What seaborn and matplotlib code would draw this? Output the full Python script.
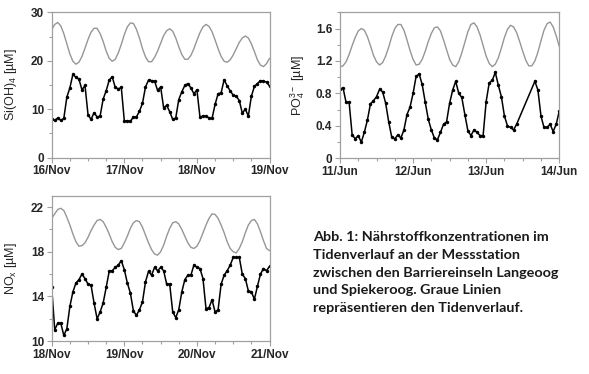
import numpy as np
import matplotlib
matplotlib.use('Agg')
import matplotlib.pyplot as plt
import seaborn as sns
from matplotlib.ticker import MultipleLocator

# Stunden seit Beginn der Messreihe (stündliche Proben)
hours = list(range(73))
po4_hours = list(range(59)) + list(range(64, 73))  # Lücke in den Daten

# Si(OH)4 [µM], 16/Nov - 19/Nov
si_tide = [26.4, 27.5, 27.9, 27.2, 25.6, 23.5, 21.4, 19.9, 19.3, 19.7, 20.9, 22.6, 24.4, 25.9, 26.7,
           26.7, 25.6, 24.0, 22.0, 20.5, 19.9, 20.3, 21.6, 23.4, 25.4, 27.0, 27.8, 27.7, 26.5, 24.7,
           22.5, 20.8, 19.8, 19.8, 20.7, 22.0, 23.6, 25.2, 26.2, 26.6, 26.1, 24.7, 22.9, 21.3, 20.3,
           20.3, 21.1, 22.5, 24.2, 25.8, 27.0, 27.5, 27.1, 26.0, 24.3, 22.5, 20.9, 19.9, 19.7, 20.2,
           21.2, 22.5, 23.8, 24.7, 25.1, 24.7, 23.5, 21.9, 20.2, 19.1, 18.8, 19.4, 20.5]
si_conc = [7.9, 7.7, 8.2, 7.7, 8.1, 12.5, 14.4, 17.2, 16.6, 16.2, 14.0, 14.9, 8.9, 7.9, 9.3,
           8.4, 8.6, 12.1, 13.8, 16.0, 16.7, 14.5, 14.2, 14.5, 7.6, 7.6, 7.5, 8.4, 8.4, 9.6,
           11.2, 14.6, 16.0, 15.9, 15.8, 13.9, 14.6, 10.3, 10.8, 9.5, 7.9, 8.2, 12.0, 13.6, 14.9,
           15.3, 14.4, 13.2, 14.0, 8.4, 8.6, 8.6, 8.2, 8.1, 11.0, 13.2, 13.4, 16.1, 14.8, 13.8,
           12.9, 12.7, 11.8, 9.2, 10.0, 8.6, 12.7, 14.7, 15.3, 15.9, 15.8, 15.6, 14.8]

# PO4 [µM], 11/Jun - 14/Jun
po4_tide = [1.13, 1.14, 1.19, 1.28, 1.39, 1.49, 1.57, 1.60, 1.58, 1.50, 1.39, 1.27, 1.19, 1.15, 1.18,
            1.26, 1.37, 1.50, 1.60, 1.65, 1.65, 1.58, 1.46, 1.33, 1.22, 1.15, 1.16, 1.22, 1.32, 1.44,
            1.54, 1.61, 1.62, 1.57, 1.46, 1.34, 1.22, 1.15, 1.13, 1.19, 1.30, 1.43, 1.56, 1.65, 1.67,
            1.62, 1.52, 1.39, 1.26, 1.17, 1.13, 1.16, 1.24, 1.36, 1.49, 1.59, 1.64, 1.62, 1.55, 1.44,
            1.32, 1.21, 1.14, 1.14, 1.20, 1.31, 1.45, 1.58, 1.66, 1.68, 1.62, 1.51, 1.38]
po4_conc = [0.85, 0.87, 0.69, 0.69, 0.29, 0.24, 0.28, 0.20, 0.32, 0.47, 0.67, 0.71, 0.76, 0.85, 0.82,
            0.68, 0.45, 0.26, 0.24, 0.29, 0.25, 0.35, 0.54, 0.63, 0.80, 1.01, 1.04, 0.91, 0.69, 0.48,
            0.35, 0.25, 0.23, 0.32, 0.42, 0.45, 0.68, 0.84, 0.95, 0.80, 0.75, 0.54, 0.34, 0.28, 0.35,
            0.32, 0.28, 0.28, 0.70, 0.93, 0.96, 1.06, 0.90, 0.76, 0.52, 0.40, 0.38, 0.35, 0.42,
            0.95, 0.84, 0.52, 0.38, 0.38, 0.42, 0.33, 0.42, 0.58]

# NOx [µM], 18/Nov - 21/Nov
nox_tide = [21.0, 21.4, 21.8, 21.9, 21.7, 21.1, 20.4, 19.6, 18.9, 18.5, 18.55, 18.8, 19.3, 19.9, 20.4,
            20.8, 20.9, 20.7, 20.2, 19.6, 18.9, 18.4, 18.2, 18.3, 18.8, 19.4, 20.1, 20.6, 20.8, 20.7,
            20.2, 19.5, 18.8, 18.2, 17.8, 17.7, 18.0, 18.6, 19.4, 20.1, 20.6, 20.7, 20.5, 20.0, 19.4,
            18.8, 18.4, 18.3, 18.5, 19.0, 19.7, 20.4, 21.0, 21.4, 21.35, 21.0, 20.4, 19.7, 18.9, 18.3,
            18.0, 17.9, 18.3, 18.9, 19.7, 20.4, 20.8, 20.9, 20.5, 19.8, 19.0, 18.3, 18.1]
nox_conc = [14.8, 11.0, 11.6, 11.6, 10.5, 11.1, 13.1, 14.4, 15.2, 15.5, 16.0, 15.6, 15.1, 15.0, 13.4,
            12.0, 12.6, 13.4, 14.8, 16.25, 16.3, 16.6, 16.8, 17.2, 16.4, 15.2, 14.3, 12.7, 12.3, 12.8,
            13.5, 15.3, 16.25, 15.9, 16.6, 16.3, 16.6, 16.3, 15.1, 15.1, 12.6, 12.1, 12.8, 14.4, 15.5,
            15.9, 15.9, 16.8, 16.6, 16.5, 15.6, 12.9, 13.0, 13.7, 12.6, 12.8, 15.1, 15.9, 16.3, 16.8,
            17.5, 17.5, 17.5, 16.0, 15.6, 14.5, 14.4, 13.75, 14.9, 16.0, 16.5, 16.3, 16.7]

si_days = ['16/Nov', '17/Nov', '18/Nov', '19/Nov']
po4_days = ['11/Jun', '12/Jun', '13/Jun', '14/Jun']
nox_days = ['18/Nov', '19/Nov', '20/Nov', '21/Nov']

caption = ("Abb. 1: Nährstoffkonzentrationen im\n"
           "Tidenverlauf an der Messstation\n"
           "zwischen den Barriereinseln Langeoog\n"
           "und Spiekeroog. Graue Linien\n"
           "repräsentieren den Tidenverlauf.")

sns.set_style('ticks')
plt.rcParams['font.family'] = ['Liberation Sans', 'DejaVu Sans']
plt.rcParams['mathtext.fontset'] = 'custom'
plt.rcParams['mathtext.rm'] = 'Liberation Sans'
plt.rcParams['mathtext.default'] = 'regular'

fig = plt.figure(figsize=(5.89, 3.74), dpi=100)
ax1 = fig.add_axes([0.0878, 0.5783, 0.3698, 0.3888])
ax2 = fig.add_axes([0.5772, 0.5767, 0.3723, 0.3904])
ax3 = fig.add_axes([0.0878, 0.0882, 0.3698, 0.3877])

spine_col = '#a0a0a0'
tide_col = '#969696'

panels = [
    (ax1, hours, si_tide, hours, si_conc, si_days, r'Si(OH)$_4$ [µM]', (0, 30), [0, 10, 20, 30], 5, ['0', '10', '20', '30']),
    (ax2, hours, po4_tide, po4_hours, po4_conc, po4_days, r'PO$_4^{3-}$ [µM]', (0, 1.8), [0, 0.4, 0.8, 1.2, 1.6], 0.2, ['0', '0.4', '0.8', '1.2', '1.6']),
    (ax3, hours, nox_tide, hours, nox_conc, nox_days, r'NO$_x$ [µM]', (10, 23), [10, 14, 18, 22], 2, ['10', '14', '18', '22']),
]

for ax, th, tide, ch, conc, days, ylab, ylim, yt, yminor, ytl in panels:
    sns.lineplot(x=th, y=tide, ax=ax, color=tide_col, lw=1.0)
    sns.lineplot(x=ch, y=conc, ax=ax, color='black', lw=1.1, marker='o',
                 markersize=2.5, markeredgewidth=0)
    ax.set_xlim(0, 72)
    ax.set_ylim(*ylim)
    ax.set_xticks([0, 24, 48, 72])
    ax.set_xticklabels(days, fontsize=8.5, fontweight='bold')
    ax.xaxis.set_minor_locator(MultipleLocator(6))
    ax.set_yticks(yt)
    ax.set_yticklabels(ytl, fontsize=8.5, fontweight='bold')
    ax.yaxis.set_minor_locator(MultipleLocator(yminor))
    ax.set_ylabel(ylab, fontsize=9)
    ax.set_xlabel('')
    ax.tick_params(which='both', direction='out', color=spine_col, width=0.8, pad=2)
    ax.tick_params(which='major', length=3.5)
    ax.tick_params(which='minor', length=2.5)
    for s in ax.spines.values():
        s.set_visible(True)
        s.set_color(spine_col)
        s.set_linewidth(0.9)

for ax in (ax1, ax2, ax3):
    ax.yaxis.set_label_coords(-0.15, 0.5)

fig.text(313 / 589, 1 - 231 / 374, caption, ha='left', va='top',
         fontsize=10.4, fontweight='bold', family=['Lato', 'DejaVu Sans'],
         linespacing=1.58, color='#1a1a1a')

fig.savefig('out.png', dpi=100)
